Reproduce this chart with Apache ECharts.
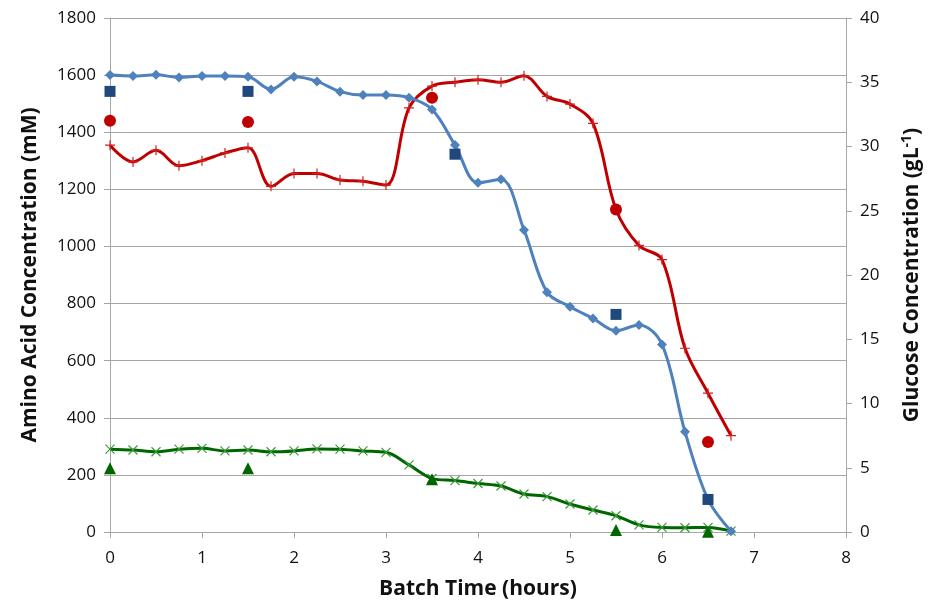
<!DOCTYPE html>
<html>
<head>
<meta charset="utf-8">
<script src="https://cdn.jsdelivr.net/npm/echarts@6/dist/echarts.min.js"></script>
<style>
  html, body { margin: 0; padding: 0; background: #fff; }
  #chart { width: 933px; height: 600px; }
</style>
</head>
<body>
<div id="chart"></div>
<script>
// Sampling times along the batch (hours)
const timeH = [0, 0.25, 0.5, 0.75, 1, 1.25, 1.5, 1.75, 2, 2.25, 2.5, 2.75, 3, 3.25,
  3.5, 3.75, 4, 4.25, 4.5, 4.75, 5, 5.25, 5.5, 5.75, 6, 6.25, 6.5, 6.75];

// Online estimates
const aminoA = [1600, 1597, 1601, 1592, 1597, 1597, 1594, 1550, 1594, 1578, 1542, 1530, 1530, 1521,
  1480, 1355, 1223, 1235, 1058, 840, 789, 748, 705, 725, 657, 351, 114, 3];
const aminoB = [290, 287, 281, 290, 293, 284, 287, 281, 284, 291, 290, 284, 279, 235,
  188, 180, 170, 161, 133, 124, 98, 77, 57, 25, 16, 15, 16, 3];
const glucose = [30.1, 28.8, 29.7, 28.5, 28.9, 29.5, 29.9, 26.9, 27.9, 27.9, 27.4, 27.3, 27.0, 33.0,
  34.7, 35.0, 35.2, 35.0, 35.5, 33.9, 33.3, 31.8, 25.1, 22.3, 21.2, 14.3, 10.8, 7.5];

// Offline measurements
const offlineA_t = [0, 1.5, 3.75, 5.5, 6.5];
const offlineA = [1543, 1543, 1323, 762, 114];
const offlineB_t = [0, 1.5, 3.5, 5.5, 6.5];
const offlineB = [223, 223, 185, 7, 1];
const offlineGlc_t = [0, 1.5, 3.5, 5.5, 6.5];
const offlineGlc = [32.0, 31.9, 33.8, 25.1, 7.0];

// Axis ticks
const xTicks = [0, 1, 2, 3, 4, 5, 6, 7, 8];
const leftTicks = [0, 200, 400, 600, 800, 1000, 1200, 1400, 1600, 1800];
const rightTicks = [0, 5, 10, 15, 20, 25, 30, 35, 40];

const pair = (xs, ys) => xs.map((x, i) => [x, ys[i]]);

const PLUS = 'path://M5,0L5,10M0,5L10,5';
const CROSS = 'path://M0,0L10,10M10,0L0,10';
const FONT = '"Open Sans", "Liberation Sans", sans-serif';

const chart = echarts.init(document.getElementById('chart'));
const axisTxt = { color: '#111', fontSize: 17, fontFamily: FONT, formatter: v => String(v) };
const nameTxt = { color: '#111', fontSize: 21, fontWeight: 'bold', fontFamily: FONT };
const greyLine = { lineStyle: { color: '#a6a6a6', width: 1 } };

chart.setOption({
  animation: false,
  grid: { left: 110, right: 87, top: 18, bottom: 68, outerBoundsMode: 'none', containLabel: false },
  xAxis: {
    type: 'value', min: xTicks[0], max: xTicks[xTicks.length - 1], interval: 1,
    name: 'Batch Time (hours)', nameLocation: 'middle', nameGap: 47,
    nameTextStyle: nameTxt,
    axisLine: { show: true, onZero: false, ...greyLine },
    axisTick: { show: true, length: 6, ...greyLine },
    axisLabel: { ...axisTxt, margin: 18 },
    splitLine: { show: false }
  },
  yAxis: [
    {
      type: 'value', min: leftTicks[0], max: leftTicks[leftTicks.length - 1], interval: 200,
      name: 'Amino Acid Concentration (mM)', nameLocation: 'middle', nameGap: 69,
      nameTextStyle: nameTxt,
      axisLine: { show: true, ...greyLine },
      axisTick: { show: true, length: 6, ...greyLine },
      axisLabel: { ...axisTxt, margin: 14 },
      splitLine: { show: true, lineStyle: { color: '#a6a6a6', width: 1 } }
    },
    {
      type: 'value', min: rightTicks[0], max: rightTicks[rightTicks.length - 1], interval: 5,
      position: 'right',
      name: 'Glucose Concentration (gL{sup|-1})', nameLocation: 'middle', nameGap: 54,
      nameTextStyle: {
        ...nameTxt,
        rich: { sup: { fontSize: 14, fontWeight: 'bold', fontFamily: FONT, color: '#111', padding: [0, 0, 10, 0] } }
      },
      axisLine: { show: true, ...greyLine },
      axisTick: { show: true, length: 6, ...greyLine },
      axisLabel: { ...axisTxt, margin: 14 },
      splitLine: { show: false }
    }
  ],
  series: [
    {
      type: 'line', name: 'Glucose', yAxisIndex: 1, smooth: 0.35,
      data: pair(timeH, glucose),
      lineStyle: { color: '#c00000', width: 3 },
      symbol: PLUS, symbolSize: 10,
      itemStyle: { color: '#c00000', borderColor: '#d02020', borderWidth: 1.2 },
      z: 3
    },
    {
      type: 'line', name: 'Amino acid A', yAxisIndex: 0, smooth: 0.35,
      data: pair(timeH, aminoA),
      lineStyle: { color: '#4f81bd', width: 3 },
      symbol: 'diamond', symbolSize: 10,
      itemStyle: { color: '#4f81bd', borderColor: '#4f81bd', borderWidth: 0 },
      z: 4
    },
    {
      type: 'line', name: 'Amino acid B', yAxisIndex: 0, smooth: 0.35,
      data: pair(timeH, aminoB),
      lineStyle: { color: '#006600', width: 3 },
      symbol: CROSS, symbolSize: 9,
      itemStyle: { color: '#3a9a3a', borderColor: '#3a9a3a', borderWidth: 1.2 },
      z: 3
    },
    {
      type: 'scatter', name: 'Amino acid A (offline)', yAxisIndex: 0,
      data: pair(offlineA_t, offlineA),
      symbol: 'rect', symbolSize: 11,
      itemStyle: { color: '#1f497d', opacity: 1 }, z: 5
    },
    {
      type: 'scatter', name: 'Glucose (offline)', yAxisIndex: 1,
      data: pair(offlineGlc_t, offlineGlc),
      symbol: 'circle', symbolSize: 12,
      itemStyle: { color: '#c00000', opacity: 1 }, z: 5
    },
    {
      type: 'scatter', name: 'Amino acid B (offline)', yAxisIndex: 0,
      data: pair(offlineB_t, offlineB),
      symbol: 'triangle', symbolSize: 12,
      itemStyle: { color: '#006600', opacity: 1 }, z: 5
    }
  ]
});
</script>
</body>
</html>
